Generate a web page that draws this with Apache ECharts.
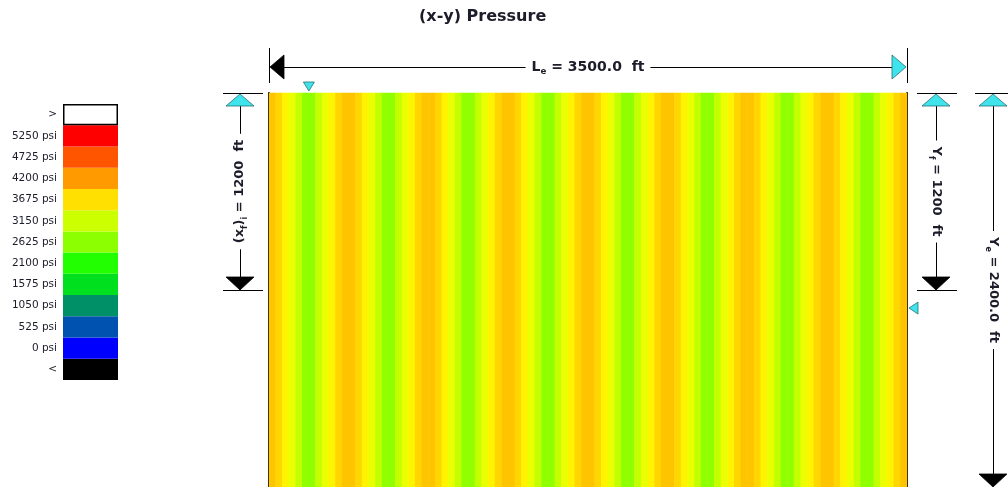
<!DOCTYPE html>
<html><head><meta charset="utf-8">
<script src="https://cdn.jsdelivr.net/npm/echarts@6/dist/echarts.min.js"></script>
<style>html,body{margin:0;padding:0;background:#fff}#c{width:1008px;height:487px}</style>
</head><body><div id="c"></div>
<script>
// ---------- data ----------
const titleText = '(x-y) Pressure';
// pressure (psi) per x-column, left to right across the reservoir (96 columns)
const pressure = [
  4000, 3760, 3520, 3280, 3040, 2800, 2800, 3040, 3280, 3520, 3760, 4000,
  4000, 3760, 3520, 3280, 3040, 2800, 2800, 3040, 3280, 3520, 3760, 4000,
  4000, 3760, 3520, 3280, 3040, 2800, 2800, 3040, 3280, 3520, 3760, 4000,
  4000, 3760, 3520, 3280, 3040, 2800, 2800, 3040, 3280, 3520, 3760, 4000,
  4000, 3760, 3520, 3280, 3040, 2800, 2800, 3040, 3280, 3520, 3760, 4000,
  4000, 3760, 3520, 3280, 3040, 2800, 2800, 3040, 3280, 3520, 3760, 4000,
  4000, 3760, 3520, 3280, 3040, 2800, 2800, 3040, 3280, 3520, 3760, 4000,
  4000, 3760, 3520, 3280, 3040, 2800, 2800, 3040, 3280, 3520, 3760, 4000
];
// legend (bottom to top)
const legendLabels = ['<', '0 psi', '525 psi', '1050 psi', '1575 psi', '2100 psi', '2625 psi',
  '3150 psi', '3675 psi', '4200 psi', '4725 psi', '5250 psi', '>'];
const legendColors = ['#000000', '#0000ff', '#0052b0', '#009068', '#00e01e', '#22ff00', '#8cff00',
  '#ccff00', '#ffe000', '#ff9a00', '#ff5400', '#ff0000', '#ffffff'];
// dimensions (ft)
const Le = 3500;   // reservoir length
const Ye = 2400;   // reservoir width
const Yf = 1200;   // fracture half-length position
const xfi = 1200;  // (xf)i
const fracMarkerX = 218.75; // ft, top marker
const wellMarkerY = 1310;   // ft, right marker
// heat colour ramp (low -> high)
const heatColors = ['#90ff00', '#c4ff00', '#eaff00', '#fff400', '#ffd600', '#ffc400'];

// ---------- chart ----------
const FONT = 'DejaVu Sans';
const TXT = '#1c1c2a';
const chart = echarts.init(document.getElementById('c'));
const columns = pressure.map((_, i) => String(i));
const heatData = pressure.map((v, i) => [i, 0, v]);

chart.setOption({
  animation: false,
  backgroundColor: '#ffffff',
  title: {
    text: titleText, left: 414, top: 4,
    textStyle: { fontFamily: FONT, fontWeight: 'bold', fontSize: 16, color: TXT }
  },
  grid: [
    { left: 269, top: 93, width: 638, height: 396 },
    { left: 63, top: 104, width: 55, height: 276 }
  ],
  xAxis: [
    { type: 'category', gridIndex: 0, data: columns, show: false },
    { type: 'value', gridIndex: 0, min: 0, max: Le, show: false },
    { type: 'value', gridIndex: 1, min: 0, max: 1, show: false }
  ],
  yAxis: [
    { type: 'category', gridIndex: 0, data: ['p'], position: 'left',
      axisLine: { show: true, onZero: false, lineStyle: { color: '#000', width: 2 } },
      axisTick: { show: false }, axisLabel: { show: false }, splitLine: { show: false } },
    { type: 'value', gridIndex: 0, min: 0, max: Ye, inverse: true, position: 'right',
      axisLine: { show: true, onZero: false, lineStyle: { color: '#000', width: 2 } },
      axisTick: { show: false }, axisLabel: { show: false }, splitLine: { show: false } },
    { type: 'category', gridIndex: 1, data: legendLabels, position: 'left',
      axisLine: { show: false }, axisTick: { show: false }, splitLine: { show: false },
      axisLabel: { fontFamily: FONT, fontSize: 10.5, color: TXT, margin: 6 } }
  ],
  visualMap: {
    show: false, type: 'continuous', seriesIndex: 0, min: 2800, max: 4000,
    inRange: { color: heatColors }
  },
  series: [
    { type: 'heatmap', xAxisIndex: 0, yAxisIndex: 0, data: heatData,
      itemStyle: { borderWidth: 0 }, emphasis: { disabled: true } },
    { type: 'bar', xAxisIndex: 2, yAxisIndex: 2, barWidth: '100%', silent: true,
      data: legendLabels.map((l, i) => ({
        value: 1,
        itemStyle: { color: legendColors[i],
          borderColor: l === '>' ? '#000' : legendColors[i],
          borderWidth: l === '>' ? 1.5 : 0 }
      })) }
  ]
});

// ---------- dimension annotations (positions from the axes) ----------
const px = v => chart.convertToPixel({ xAxisIndex: 1 }, v);
const py = v => chart.convertToPixel({ yAxisIndex: 1 }, v);
const LINE = '#000';
const CYAN = '#3fe3ec';
const g = [];
const c = v => Math.round(v) + 0.5;
const line = (x1, y1, x2, y2) => {
  if (x1 === x2) { x1 = x2 = c(x1); } else { y1 = y2 = c(y1); }
  g.push({ type: 'line', silent: true, z: 10,
    shape: { x1, y1, x2, y2 }, style: { stroke: LINE, lineWidth: 1 } });
};
const tri = (pts, fill) => g.push({ type: 'polygon', silent: true, z: 12,
  shape: { points: pts }, style: { fill, stroke: fill === CYAN ? '#2a6f74' : '#000', lineWidth: 0.8 } });
const label = (x, y, rot, text, size) => g.push({ type: 'text', silent: true, z: 20, x, y, rotation: rot,
  style: { text, align: 'center', verticalAlign: 'middle', textAlign: 'center', textVerticalAlign: 'middle',
    backgroundColor: '#fff', padding: [0, 6], fill: TXT,
    rich: {
      b: { fontFamily: FONT, fontWeight: 'bold', fontSize: size, fill: TXT, color: TXT, lineHeight: size + 4 },
      s: { fontFamily: FONT, fontWeight: 'bold', fontSize: size * 0.62, fill: TXT, color: TXT,
           lineHeight: size + 4, verticalAlign: 'bottom' }
    } } });

const X0 = px(0), X1 = px(Le), Y0 = py(0), YE = py(Ye), YF = py(Yf), YX = py(xfi);

// top: Le
const yT = Y0 - 26;
line(X0, yT - 19, X0, yT + 16);
line(X1, yT - 19, X1, yT + 16);
line(X0 + 15, yT, X1 - 15, yT);
tri([[X0 + 1, yT], [X0 + 15, yT - 12], [X0 + 15, yT + 12]], '#000');
tri([[X1 - 1, yT], [X1 - 15, yT - 12], [X1 - 15, yT + 12]], CYAN);
label((X0 + X1) / 2, yT, 0, '{b|L}{s|e}{b| = ' + Le.toFixed(1) + '  ft}', 14);

// left: (xf)i
const xL = X0 - 29;
line(xL - 17, Y0, xL + 23, Y0);
line(xL - 17, YX, xL + 23, YX);
line(xL, Y0 + 13, xL, YX - 13);
tri([[xL, Y0 + 1], [xL - 14, Y0 + 13], [xL + 14, Y0 + 13]], CYAN);
tri([[xL, YX], [xL - 14, YX - 13], [xL + 14, YX - 13]], '#000');
label(xL, (Y0 + YX) / 2, Math.PI / 2, '{b|(x}{s|f}{b|)}{s|i}{b| = ' + xfi + '  ft}', 13);

// right 1: Yf
const xR1 = X1 + 29;
line(xR1 - 19, Y0, xR1 + 21, Y0);
line(xR1 - 19, YF, xR1 + 21, YF);
line(xR1, Y0 + 13, xR1, YF - 13);
tri([[xR1, Y0 + 1], [xR1 - 14, Y0 + 13], [xR1 + 14, Y0 + 13]], CYAN);
tri([[xR1, YF], [xR1 - 14, YF - 13], [xR1 + 14, YF - 13]], '#000');
label(xR1, (Y0 + YF) / 2, -Math.PI / 2, '{b|Y}{s|f}{b| = ' + Yf + '  ft}', 13);

// right 2: Ye
const xR2 = X1 + 86;
line(xR2 - 18, Y0, xR2 + 18, Y0);
line(xR2, Y0 + 13, xR2, YE - 13);
tri([[xR2, Y0 + 1], [xR2 - 14, Y0 + 13], [xR2 + 14, Y0 + 13]], CYAN);
tri([[xR2, YE], [xR2 - 14, YE - 13], [xR2 + 14, YE - 13]], '#000');
label(xR2, (Y0 + YE) / 2, -Math.PI / 2, '{b|Y}{s|e}{b| = ' + Ye.toFixed(1) + '  ft}', 13);

// markers
const mx = px(fracMarkerX);
tri([[mx, Y0 - 2], [mx - 5.5, Y0 - 11], [mx + 5.5, Y0 - 11]], CYAN);
const my = py(wellMarkerY);
tri([[X1 + 2, my], [X1 + 11, my - 6], [X1 + 11, my + 6]], CYAN);

chart.setOption({ graphic: { elements: g } });
</script>
</body></html>
